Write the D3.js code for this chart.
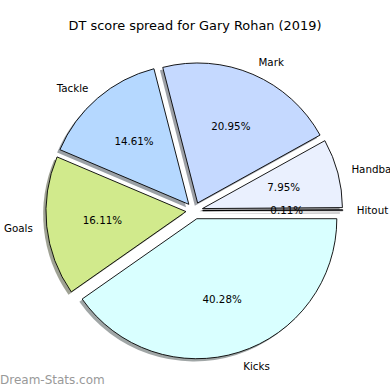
<!DOCTYPE html>
<html lang="en">
  <head>
    <meta charset="utf-8">
    <title>DT score spread</title>
    <script src="https://d3js.org/d3.v7.min.js"></script>
    <style>
      body { margin: 0; background: #fff; }
      text { font-family: 'DejaVu Sans', sans-serif; }
    </style>
  </head>
  <body>
    <div id="chart"></div>
    <script type="text/javascript">
      // data, in matplotlib order (counter-clockwise from 3 o'clock)
      let categories = ['Hitout', 'Handball', 'Mark', 'Tackle', 'Goals', 'Kicks'];
      let shares = [0.11, 7.95, 20.95, 14.61, 16.11, 40.28];
      let colours = ['#f2f0ff', '#eaf0fe', '#c5d9ff', '#b5d8ff', '#d1ea8c', '#d9ffff'];

      let width = 390, height = 390;
      let cx = 194.3, cy = 210.7, r = 140;
      let explode = 0.06;

      let svg = d3.select('#chart').append('svg')
        .attr('width', width)
        .attr('height', height);

      svg.append('text')
        .attr('x', 195)
        .attr('y', 25)
        .attr('text-anchor', 'middle')
        .attr('dominant-baseline', 'central')
        .attr('font-size', 12.9)
        .attr('fill', '#000')
        .text('DT score spread for Gary Rohan (2019)');

      let pie = d3.pie()
        .sort(null)
        .value(d => d.v)
        .startAngle(Math.PI / 2)
        .endAngle(Math.PI / 2 - 2 * Math.PI);

      let arcs = pie(categories.map((c, i) => ({c: c, v: shares[i], col: colours[i]})));
      let arc = d3.arc().innerRadius(0).outerRadius(r);

      // each wedge pushed out along its middle angle
      arcs.forEach(a => {
        let m = (a.startAngle + a.endAngle) / 2;
        a.dx = Math.sin(m);
        a.dy = -Math.cos(m);
        a.ox = cx + explode * r * a.dx;
        a.oy = cy + explode * r * a.dy;
      });

      let g = svg.append('g');

      // shadows first, under everything
      g.selectAll('path.shadow')
        .data(arcs)
        .enter()
        .append('path')
        .attr('class', 'shadow')
        .attr('transform', d => 'translate(' + (d.ox - 0.02 * r) + ',' + (d.oy + 0.02 * r) + ')')
        .attr('d', arc)
        .attr('fill', d => { let c = d3.rgb(d.data.col); return d3.rgb(c.r * 0.3, c.g * 0.3, c.b * 0.3); })
        .attr('opacity', 0.5);

      g.selectAll('path.wedge')
        .data(arcs)
        .enter()
        .append('path')
        .attr('class', 'wedge')
        .attr('transform', d => 'translate(' + d.ox + ',' + d.oy + ')')
        .attr('d', arc)
        .attr('fill', d => d.data.col)
        .attr('stroke', '#000')
        .attr('stroke-width', 0.9)
        .attr('stroke-linejoin', 'miter');

      g.selectAll('text.label')
        .data(arcs)
        .enter()
        .append('text')
        .attr('class', 'label')
        .attr('x', d => d.ox + 1.1 * r * d.dx)
        .attr('y', d => d.oy + 1.1 * r * d.dy)
        .attr('text-anchor', d => d.dx > 0 ? 'start' : 'end')
        .attr('dominant-baseline', 'central')
        .attr('font-size', 10.3)
        .text(d => d.data.c);

      g.selectAll('text.pct')
        .data(arcs)
        .enter()
        .append('text')
        .attr('class', 'pct')
        .attr('x', d => d.ox + 0.6 * r * d.dx)
        .attr('y', d => d.oy + 0.6 * r * d.dy)
        .attr('text-anchor', 'middle')
        .attr('dominant-baseline', 'central')
        .attr('font-size', 10.3)
        .text(d => d.data.v.toFixed(2) + '%');

      svg.append('text')
        .attr('x', 0)
        .attr('y', 380)
        .attr('dominant-baseline', 'central')
        .attr('font-size', 12)
        .attr('fill', '#999')
        .text('Dream-Stats.com');
    </script>
  </body>
</html>
